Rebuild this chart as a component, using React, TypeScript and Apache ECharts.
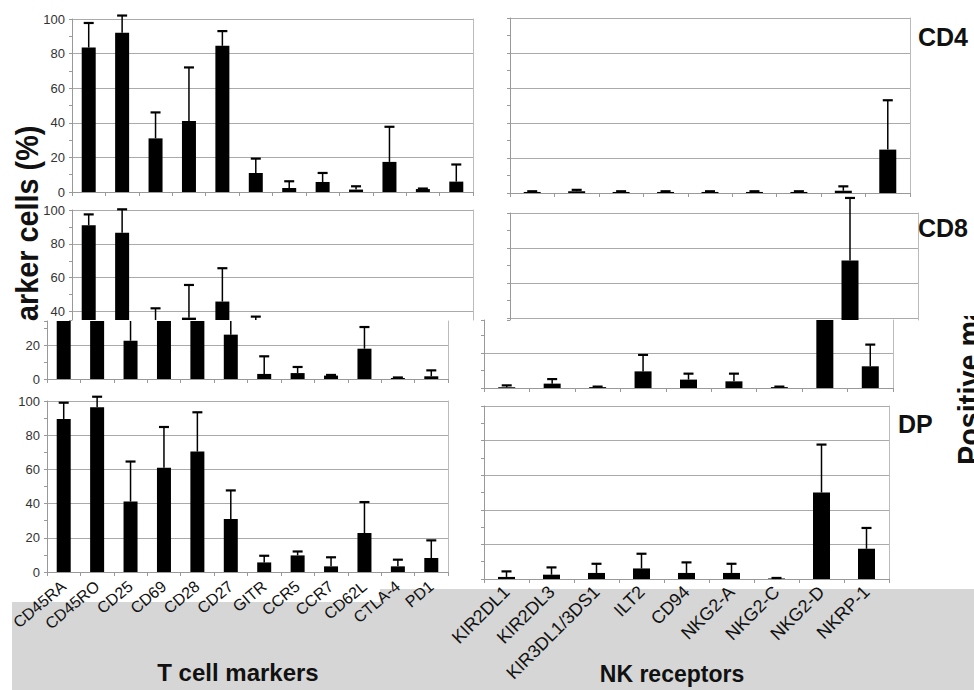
import React, { useEffect, useRef } from "react";
import * as echarts from "echarts";

// ---------- data ----------
const tCategories = ["CD45RA", "CD45RO", "CD25", "CD69", "CD28", "CD27", "GITR", "CCR5", "CCR7", "CD62L", "CTLA-4", "PD1"];
const nkCategories = ["KIR2DL1", "KIR2DL3", "KIR3DL1/3DS1", "ILT2", "CD94", "NKG2-A", "NKG2-C", "NKG2-D", "NKRP-1"];

const cd4T = [83.5, 92, 31, 41, 84.5, 11, 2.3, 5.8, 1.4, 17.4, 1.7, 6];
const cd4TErr = [97.7, 102, 46, 72, 93, 19.3, 6.2, 11, 3.3, 37.7, 2, 15.9];
const cd8T = [91, 86.6, 22.6, 36.4, 45.9, 26.2, 3, 3.5, 2, 17.9, 0.6, 1.6];
const cd8TErr = [97.4, 100.4, 41.9, 55.7, 65.6, 37, 13.4, 7.1, 2.4, 30.7, 0.9, 5.1];
const dpT = [89.5, 96.3, 41.2, 61, 70.4, 31, 5.6, 9.7, 3.3, 22.8, 3.3, 8.2];
const dpTErr = [99, 102.5, 64.6, 84.8, 93.4, 47.7, 9.5, 12, 8.6, 40.9, 7.2, 18.5];

const cd4NK = [0.6, 1.0, 0.6, 0.6, 0.6, 0.6, 0.6, 1.3, 24.8];
const cd4NKErr = [1.0, 1.8, 1.0, 1.0, 1.0, 1.0, 1.0, 3.8, 53];
const cd8NK = [0.4, 2.5, 0.5, 9.5, 4.8, 3.8, 0.5, 72.8, 12.4];
const cd8NKErr = [1.5, 5.1, 0.8, 18.9, 8.2, 8.2, 0.8, 108.6, 24.8];
const dpNK = [1.2, 2.5, 3.5, 6.1, 3.5, 3.5, 0.3, 50, 17.5];
const dpNKErr = [4.4, 6.7, 8.8, 14.6, 9.6, 8.8, 0.6, 77.7, 29.5];

const panelLabels = ["CD4", "CD8", "DP"];
const yAxisTitle = "Positive marker cells (%)";
const tTitle = "T cell markers";
const nkTitle = "NK receptors";

// ---------- layout ----------
const FONT = '"Liberation Sans", Arial, Helvetica, sans-serif';

type Panel = {
  left: number; top: number; width: number; height: number;
  cats: string[]; vals: number[]; errs: number[];
  min: number; max: number;
  xMode: "none" | "line" | "labels";
  yLabels: boolean; bw: number; cap: number; clipTop: boolean; nk: boolean;
};

const panels: Panel[] = [
  { left: 72, top: 19, width: 401, height: 173, cats: tCategories, vals: cd4T, errs: cd4TErr, min: 0, max: 100, xMode: "line", yLabels: true, bw: 14, cap: 5, clipTop: false, nk: false },
  { left: 510, top: 18, width: 400, height: 175, cats: nkCategories, vals: cd4NK, errs: cd4NKErr, min: 0, max: 100, xMode: "line", yLabels: false, bw: 17, cap: 5, clipTop: false, nk: true },
  { left: 72, top: 210, width: 401, height: 110, cats: tCategories, vals: cd8T, errs: cd8TErr, min: 35, max: 100, xMode: "none", yLabels: true, bw: 14, cap: 5, clipTop: false, nk: false },
  { left: 47, top: 321, width: 401, height: 58, cats: tCategories, vals: cd8T, errs: cd8TErr, min: 0, max: 34.26, xMode: "line", yLabels: true, bw: 14, cap: 5, clipTop: true, nk: false },
  { left: 510, top: 213, width: 408, height: 107, cats: nkCategories, vals: cd8NK, errs: cd8NKErr, min: 38.86, max: 100, xMode: "none", yLabels: false, bw: 17, cap: 5, clipTop: false, nk: true },
  { left: 484, top: 320, width: 409, height: 68, cats: nkCategories, vals: cd8NK, errs: cd8NKErr, min: 0, max: 38.86, xMode: "line", yLabels: false, bw: 17, cap: 5, clipTop: true, nk: true },
  { left: 47, top: 401, width: 401, height: 171, cats: tCategories, vals: dpT, errs: dpTErr, min: 0, max: 100, xMode: "labels", yLabels: true, bw: 14, cap: 5, clipTop: false, nk: false },
  { left: 484, top: 406, width: 405, height: 173, cats: nkCategories, vals: dpNK, errs: dpNKErr, min: 0, max: 100, xMode: "labels", yLabels: false, bw: 17, cap: 5, clipTop: false, nk: true },
];

function errRenderer(cap: number, clipTop: boolean) {
  return (params: any, api: any) => {
    const i = api.value(0);
    const v = api.value(1);
    const e = api.value(2);
    const cs = params.coordSys;
    const bottom = cs.y + cs.height;
    const top = cs.y;
    const pv = api.coord([i, v]);
    const pe = api.coord([i, e]);
    const x = pv[0];
    if (pe[1] > bottom + 0.5) return null;
    let y0 = Math.min(pv[1], bottom);
    let y1 = pe[1];
    const capVisible = !(clipTop && pe[1] < top);
    if (clipTop) {
      y1 = Math.max(y1, top);
      y0 = Math.max(y0, top);
    }
    const children: any[] = [];
    if (y0 - y1 > 0.5) {
      children.push({ type: "line", shape: { x1: x, y1: y0, x2: x, y2: y1 }, style: { stroke: "#000", lineWidth: 1.5 } });
    }
    if (capVisible) {
      children.push({ type: "line", shape: { x1: x - cap, y1: pe[1], x2: x + cap, y2: pe[1] }, style: { stroke: "#000", lineWidth: 2.2 } });
    }
    return { type: "group", children };
  };
}

function buildOption() {
  const grid: any[] = [];
  const xAxis: any[] = [];
  const yAxis: any[] = [];
  const series: any[] = [];
  panels.forEach((p, k) => {
    grid.push({ left: p.left, top: p.top, width: p.width, height: p.height, containLabel: false });
    xAxis.push({
      type: "category",
      gridIndex: k,
      data: p.cats,
      boundaryGap: true,
      show: p.xMode !== "none",
      axisLine: { show: true, onZero: false, lineStyle: { color: "#999", width: 1 } },
      axisTick: { show: true, length: 4, lineStyle: { color: "#999" } },
      axisLabel: {
        show: p.xMode === "labels",
        interval: 0,
        rotate: p.nk ? 45 : 40,
        fontSize: p.nk ? 18 : 16,
        fontFamily: FONT,
        color: "#111",
        margin: p.nk ? 10 : 12,
      },
      splitLine: { show: false },
    });
    const fixedTicks = p.min === 0;
    yAxis.push({
      type: "value",
      gridIndex: k,
      position: "left",
      min: p.min,
      max: p.max,
      ...(fixedTicks ? { interval: 10 } : { splitNumber: 6 }),
      axisLine: { show: true, lineStyle: { color: "#999", width: 1 } },
      axisTick: { show: true, length: 3, lineStyle: { color: "#999" } },
      axisLabel: {
        show: p.yLabels,
        fontSize: 13,
        fontFamily: FONT,
        color: "#333",
        margin: 7,
        formatter: (v: number) => (Math.abs(v % 20) < 1e-6 ? String(v) : ""),
      },
      splitLine: { show: false },
    });
    yAxis.push({
      type: "value",
      gridIndex: k,
      position: "left",
      min: p.min,
      max: p.max,
      ...(fixedTicks ? { interval: 20 } : { splitNumber: 3 }),
      axisLine: { show: false },
      axisTick: { show: false },
      axisLabel: { show: false },
      splitLine: { show: true, showMinLine: false, showMaxLine: p.max === 100, lineStyle: { color: "#aaa", width: 1 } },
    });
    yAxis.push({
      type: "value",
      gridIndex: k,
      position: "right",
      min: 0,
      max: 1,
      axisLine: { show: true, lineStyle: { color: "#bbb", width: 1 } },
      axisTick: { show: false },
      axisLabel: { show: false },
      splitLine: { show: false },
    });
    series.push({
      type: "bar",
      xAxisIndex: k,
      yAxisIndex: 3 * k,
      data: p.vals,
      barWidth: p.bw,
      itemStyle: { color: "#000" },
      clip: true,
      silent: true,
      z: 2,
    });
    series.push({
      type: "custom",
      xAxisIndex: k,
      yAxisIndex: 3 * k,
      data: p.vals.map((v, i) => [i, v, p.errs[i]]),
      encode: { x: 0, y: [1, 2] },
      renderItem: errRenderer(p.cap, p.clipTop),
      clip: false,
      silent: true,
      z: 3,
    });
  });

  const titleFont = `bold 32px ${FONT}`;
  const graphic = {
    elements: [
      { type: "rect", silent: true, z: -1, shape: { x: 12, y: 602, width: 368, height: 88 }, style: { fill: "#d6d6d6" } },
      { type: "rect", silent: true, z: -1, shape: { x: 380, y: 589, width: 594, height: 101 }, style: { fill: "#d6d6d6" } },
      {
        type: "text", silent: true, z: -3, x: 26, y: 465, rotation: Math.PI / 2, scaleX: 0.9,
        style: { text: yAxisTitle, font: titleFont, fill: "#111", align: "left", verticalAlign: "middle", textAlign: "left", textVerticalAlign: "middle" },
      },
      {
        type: "text", silent: true, z: -3, x: 968, y: 465, rotation: Math.PI / 2, scaleX: 0.9,
        style: { text: yAxisTitle, font: titleFont, fill: "#111", align: "left", verticalAlign: "middle", textAlign: "left", textVerticalAlign: "middle" },
      },
      { type: "rect", silent: true, z: -2, shape: { x: 0, y: 321, width: 47, height: 281 }, style: { fill: "#fff" } },
      { type: "rect", silent: true, z: -2, shape: { x: 925, y: 0, width: 49, height: 316 }, style: { fill: "#fff" } },
      { type: "text", silent: true, z: 5, x: 918, y: 37, style: { text: panelLabels[0], font: `bold 25px ${FONT}`, fill: "#111", align: "left", verticalAlign: "middle", textAlign: "left", textVerticalAlign: "middle" } },
      { type: "text", silent: true, z: 5, x: 918, y: 228, style: { text: panelLabels[1], font: `bold 25px ${FONT}`, fill: "#111", align: "left", verticalAlign: "middle", textAlign: "left", textVerticalAlign: "middle" } },
      { type: "text", silent: true, z: 5, x: 898, y: 424, style: { text: panelLabels[2], font: `bold 25px ${FONT}`, fill: "#111", align: "left", verticalAlign: "middle", textAlign: "left", textVerticalAlign: "middle" } },
      { type: "text", silent: true, z: 5, x: 238, y: 672, style: { text: tTitle, font: `bold 24px ${FONT}`, fill: "#111", align: "center", verticalAlign: "middle", textAlign: "center", textVerticalAlign: "middle" } },
      { type: "text", silent: true, z: 5, x: 672, y: 674, style: { text: nkTitle, font: `bold 23px ${FONT}`, fill: "#111", align: "center", verticalAlign: "middle", textAlign: "center", textVerticalAlign: "middle" } },
    ],
  };

  return {
    animation: false,
    backgroundColor: "#fff",
    textStyle: { fontFamily: FONT },
    grid,
    xAxis,
    yAxis,
    series,
    graphic,
  };
}

export default function App() {
  const ref = useRef<HTMLDivElement>(null);
  useEffect(() => {
    document.body.style.margin = "0";
    if (!ref.current) return;
    const chart = echarts.init(ref.current, undefined, { renderer: "svg" });
    chart.setOption(buildOption() as any);
    return () => {
      chart.dispose();
    };
  }, []);
  return <div ref={ref} style={{ width: 974, height: 690 }} />;
}
